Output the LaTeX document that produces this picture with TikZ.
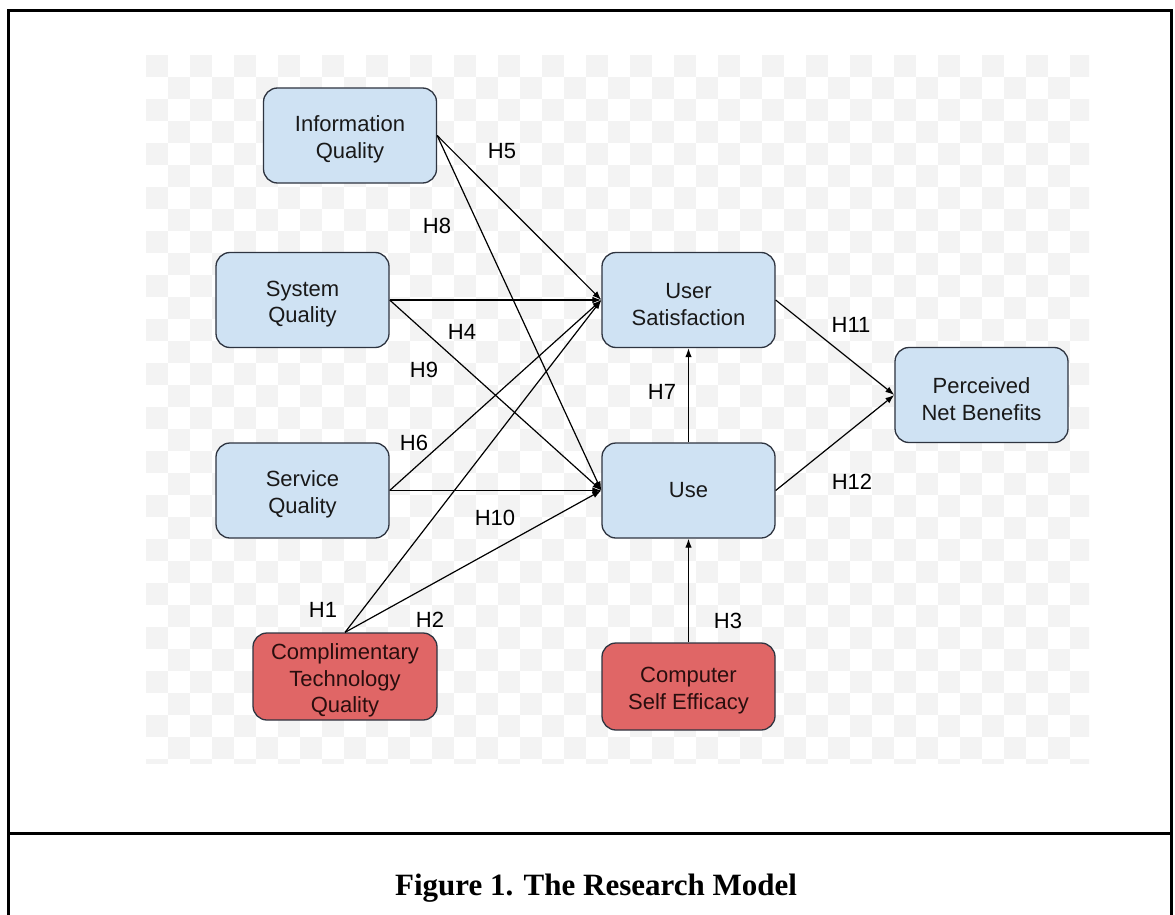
\documentclass[tikz,border=0pt]{standalone}
\usepackage{fontspec}
\setmainfont{Liberation Sans}
\newfontfamily\capfont{Liberation Serif}
\usetikzlibrary{arrows.meta}
\definecolor{boxblue}{HTML}{CFE2F3}
\definecolor{boxred}{HTML}{E06666}
\definecolor{edgegray}{HTML}{2E3440}
\definecolor{redtext}{HTML}{2A0E0E}
\definecolor{chk}{HTML}{F3F3F3}
\newcommand\tpush{\rule{0pt}{24pt}}
\tikzset{
  bbox/.style={draw=edgegray, line width=1.3pt, rounded corners=14pt, fill=boxblue,
    minimum width=173pt, minimum height=95pt, align=center, text=black!90,
    font=\fontsize{22}{26.5}\selectfont, inner sep=0pt},
  rbox/.style={bbox, fill=boxred, text=redtext},
  conn/.style={line width=1.2pt, -{Latex[length=9pt,width=6.5pt]}},
  hyp/.style={font=\fontsize{22}{26}\selectfont, inner sep=0pt},
  frame/.style={line width=3pt},
}
\begin{document}
\begin{tikzpicture}[x=1pt,y=-1pt]
\useasboundingbox (0,0) rectangle (1175,915);
% checker background
\begin{scope}
\clip (146,55) rectangle (1089,763);
\fill[white] (146,55) rectangle (1089,763);
\foreach \i in {0,2,...,42}{
  \foreach \j in {0,2,...,32}{
    \fill[chk] (146+\i*22,55+\j*22) rectangle ++(22,22);
    \fill[chk] (146+\i*22+22,55+\j*22+22) rectangle ++(22,22);
  }
}
\end{scope}
% frame
\coordinate (fbl) at (8,915);
\coordinate (ftl) at (8,11);
\coordinate (ftr) at (1171,11);
\coordinate (fbr) at (1171,915);
\coordinate (dl) at (8,833);
\coordinate (dr) at (1171,833);
\draw[frame] (fbl) -- (ftl) -- (ftr) -- (fbr);
\draw[frame] (dl) -- (dr);
% nodes
\node[bbox] (iq) at (350,135.5) {\tpush Information\\Quality};
\node[bbox] (sq) at (302.5,300) {\tpush System\\Quality};
\node[bbox] (svq) at (302.5,490.5) {\tpush Service\\Quality};
\node[rbox, minimum width=184pt, minimum height=87pt] (ctq) at (345,676.5) {\tpush Complimentary\\Technology\\Quality};
\node[bbox] (us) at (688.5,300) {\tpush User\\Satisfaction};
\node[bbox] (use) at (688.5,490.5) {Use};
\node[bbox] (pnb) at (981.5,395) {\tpush Perceived\\Net Benefits};
\node[rbox, minimum height=87pt] (cse) at (688.5,686.5) {\tpush Computer\\Self Efficacy};
% connectors
\draw[conn] (iq.east) -- (us.west);
\draw[conn] (iq.east) -- (use.west);
\draw[conn] (sq.east) -- (us.west);
\draw[conn] (sq.east) -- (use.west);
\draw[conn] (svq.east) -- (us.west);
\draw[conn] (svq.east) -- (use.west);
\draw[conn] (ctq.north) -- (us.west);
\draw[conn] (ctq.north) -- (use.west);
\draw[conn] (use.north) -- (us.south);
\draw[conn] (us.east) -- (pnb.west);
\draw[conn] (use.east) -- (pnb.west);
\draw[conn] (cse.north) -- (use.south);
% hypothesis labels
\node[hyp] (h5) at (502,151) {H5};
\node[hyp] (h8) at (437,226) {H8};
\node[hyp] (h4) at (462,332) {H4};
\node[hyp] (h9) at (424,370) {H9};
\node[hyp] (h6) at (414,443) {H6};
\node[hyp] (h10) at (495,518) {H10};
\node[hyp] (h1) at (323,610) {H1};
\node[hyp] (h2) at (430,620) {H2};
\node[hyp] (h7) at (662,392) {H7};
\node[hyp] (h11) at (851,325) {H11};
\node[hyp] (h12) at (852,482) {H12};
\node[hyp] (h3) at (728,621) {H3};
% caption
\node[anchor=base, inner sep=0pt, font=\capfont\bfseries\fontsize{31}{36}\selectfont] (cap) at (596,895) {Figure 1. The Research Model};
\end{tikzpicture}
\end{document}
